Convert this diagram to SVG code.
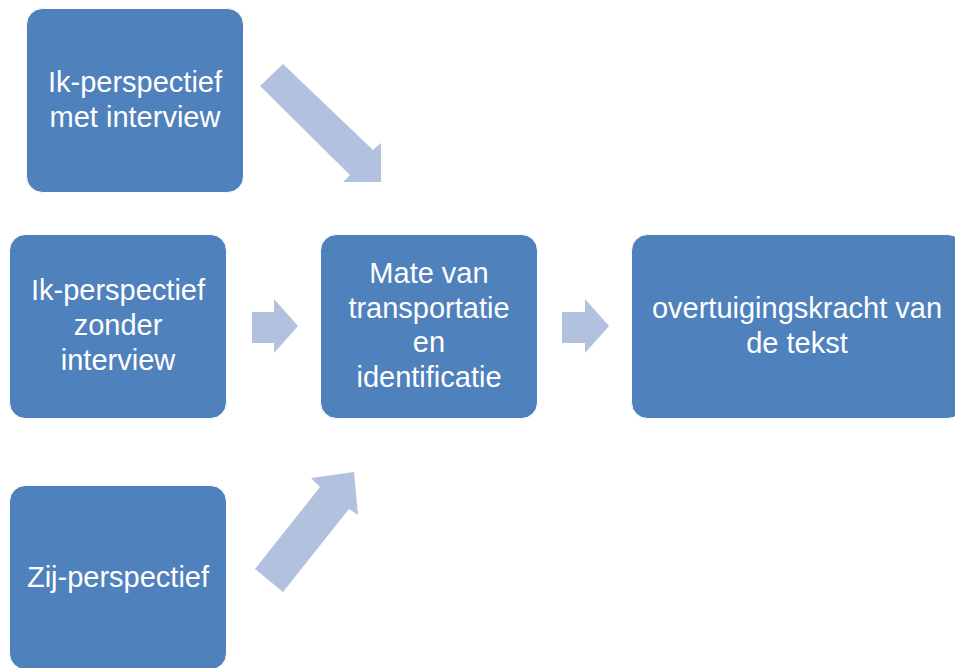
<svg xmlns="http://www.w3.org/2000/svg" width="955" height="668" viewBox="0 0 955 668">
<style>
.box{fill:#4F81BD;stroke:#FFFFFF;stroke-width:1}
.arr{fill:#B2C1DD}
.t{font-family:"Liberation Sans",Arial,sans-serif;font-size:29px;fill:#FFFFFF;text-anchor:middle}
</style>
<rect width="955" height="668" fill="#FFFFFF"/>
<g id="connectors">
<polygon class="arr" points="283,64 373,150 381,143 381,182 343,182 350,175 260,86"/>
<polygon class="arr" points="252,312 274,312 274,299 298,326 274,353 274,343 252,343"/>
<polygon class="arr" points="562,312 585,312 585,299 609,326 585,353 585,343 562,343"/>
<polygon class="arr" points="255,569 320,487 311,478 354,472 358,515 349,509 283,592"/>
</g>
<g id="node-ik-met">
<rect class="box" x="26.5" y="8.5" width="217" height="184" rx="16"/>
<text class="t" x="135" y="92">Ik-perspectief</text>
<text class="t" x="135" y="127">met interview</text>
</g>
<g id="node-ik-zonder">
<rect class="box" x="9.5" y="234.5" width="217" height="184" rx="16"/>
<text class="t" x="118" y="300">Ik-perspectief</text>
<text class="t" x="118" y="335">zonder</text>
<text class="t" x="118" y="370">interview</text>
</g>
<g id="node-zij">
<rect class="box" x="9.5" y="485.5" width="217" height="184" rx="16"/>
<text class="t" x="118" y="587">Zij-perspectief</text>
</g>
<g id="node-mate">
<rect class="box" x="320.5" y="234.5" width="217" height="184" rx="16"/>
<text class="t" x="429" y="283">Mate van</text>
<text class="t" x="429" y="318">transportatie</text>
<text class="t" x="429" y="352">en</text>
<text class="t" x="429" y="387">identificatie</text>
</g>
<g id="node-overtuiging">
<rect class="box" x="631.5" y="234.5" width="332" height="184" rx="16"/>
<text class="t" x="797" y="318">overtuigingskracht van</text>
<text class="t" x="797" y="353">de tekst</text>
</g>
</svg>
